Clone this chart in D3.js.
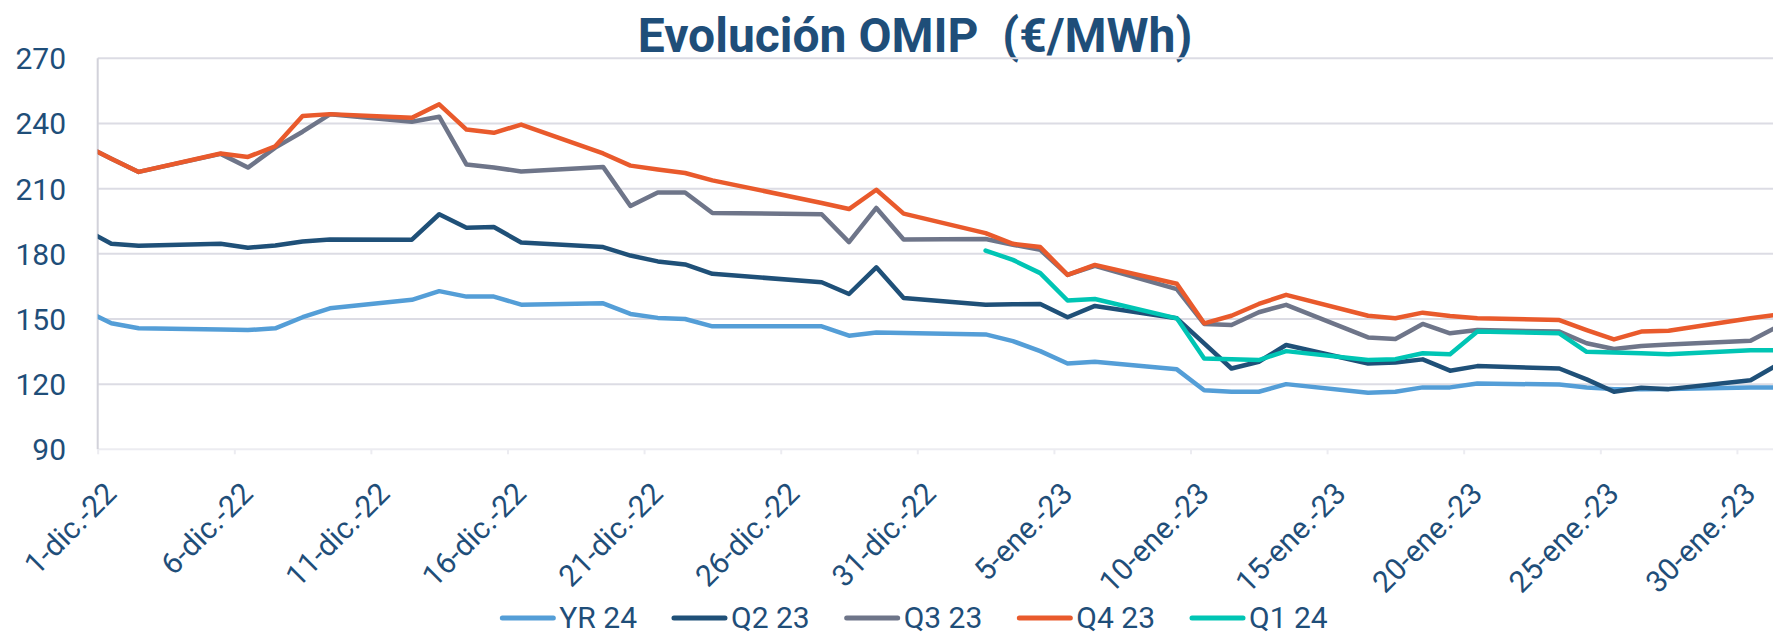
<!DOCTYPE html>
<html>
<head>
<meta charset="utf-8">
<script src="https://cdn.jsdelivr.net/npm/d3@7"></script>
<style>
  body { margin: 0; background: #fff; }
  text { font-family: Roboto, "Noto Sans", sans-serif; }
</style>
</head>
<body>
<div id="chart"></div>
<script>
// Fechas de sesión (días hábiles) y valores de cada contrato OMIP en €/MWh
const fechas = [
  "2022-11-30", "2022-12-01", "2022-12-02", "2022-12-05", "2022-12-06", "2022-12-07", "2022-12-08", "2022-12-09",
  "2022-12-12", "2022-12-13", "2022-12-14", "2022-12-15", "2022-12-16", "2022-12-19", "2022-12-20", "2022-12-21",
  "2022-12-22", "2022-12-23", "2022-12-27", "2022-12-28", "2022-12-29", "2022-12-30", "2023-01-02", "2023-01-03",
  "2023-01-04", "2023-01-05", "2023-01-06", "2023-01-09", "2023-01-10", "2023-01-11", "2023-01-12", "2023-01-13",
  "2023-01-16", "2023-01-17", "2023-01-18", "2023-01-19", "2023-01-20", "2023-01-23", "2023-01-24", "2023-01-25",
  "2023-01-26", "2023-01-27", "2023-01-30", "2023-01-31"
];

const yr24 = [
  154.2, 148.0, 145.7, 145.1, 144.9, 145.7, 150.8, 154.9, 158.8, 162.8, 160.3, 160.3, 156.6, 157.2, 152.3, 150.5,
  150.0, 146.6, 146.6, 142.3, 143.8, 143.5, 142.9, 139.8, 135.2, 129.5, 130.3, 126.8, 117.2, 116.5, 116.5, 120.0,
  116.0, 116.5, 118.5, 118.5, 120.3, 119.8, 118.5, 117.7, 117.7, 117.8, 118.5, 118.5
];
const q223 = [
  191.4, 184.6, 183.7, 184.6, 182.8, 183.8, 185.7, 186.6, 186.5, 198.2, 192.0, 192.3, 185.2, 183.1, 179.2, 176.5,
  175.1, 170.8, 166.9, 161.5, 173.8, 159.7, 156.5, 156.8, 156.9, 150.8, 156.0, 150.3, 138.8, 127.2, 130.3, 138.0,
  129.5, 130.0, 131.4, 126.2, 128.3, 127.2, 122.2, 116.5, 118.3, 117.7, 121.8, 129.0
];
const q323 = [
  230.0, 223.8, 217.7, 226.0, 219.7, 228.9, 236.2, 244.2, 240.8, 243.1, 221.1, 219.7, 217.9, 220.0, 202.0, 208.2,
  208.2, 198.8, 198.2, 185.4, 201.1, 186.6, 186.8, 184.2, 181.8, 170.3, 174.5, 163.7, 147.7, 147.2, 153.1, 156.5,
  141.5, 140.8, 147.7, 143.4, 144.9, 144.2, 138.8, 136.2, 137.6, 138.3, 140.0, 146.5
];
const q423 = [
  230.0, 223.8, 217.7, 226.2, 224.6, 229.5, 243.4, 244.3, 242.6, 248.8, 237.2, 235.7, 239.5, 226.2, 220.6, 218.8,
  217.2, 213.8, 203.4, 200.6, 209.5, 198.5, 189.5, 184.6, 183.1, 170.3, 174.9, 166.2, 148.0, 151.5, 156.9, 161.1,
  151.5, 150.3, 152.9, 151.4, 150.3, 149.5, 144.9, 140.6, 144.2, 144.6, 150.3, 152.0
];
const q124 = [
  null, null, null, null, null, null, null, null, null, null, null, null, null, null, null, null,
  null, null, null, null, null, null, 181.5, 177.2, 171.1, 158.5, 159.2, 150.3, 131.8, 131.4, 131.1, 135.2,
  131.1, 131.5, 134.2, 133.8, 144.2, 143.4, 134.9, 134.6, 134.2, 133.8, 135.6, 135.6
];

const nombresSeries = ["YR 24", "Q2 23", "Q3 23", "Q4 23", "Q1 24"];
const valoresSeries = [yr24, q223, q323, q423, q124];
const colores = ["#549ed7", "#1f5078", "#6e7589", "#e95a2c", "#00c5b4"];

// Marcas del eje X (cada 5 días) y del eje Y
const fechasTicks = [
  "2022-12-01", "2022-12-06", "2022-12-11", "2022-12-16", "2022-12-21", "2022-12-26", "2022-12-31",
  "2023-01-05", "2023-01-10", "2023-01-15", "2023-01-20", "2023-01-25", "2023-01-30"
];
const etiquetasTicks = [
  "1-dic.-22", "6-dic.-22", "11-dic.-22", "16-dic.-22", "21-dic.-22", "26-dic.-22", "31-dic.-22",
  "5-ene.-23", "10-ene.-23", "15-ene.-23", "20-ene.-23", "25-ene.-23", "30-ene.-23"
];
const ticksY = [90, 120, 150, 180, 210, 240, 270];

// Dimensiones
const width = 1773;
const height = 636;
const ejeX0 = 97.7;     // posición del eje Y
const diaPx = 27.32;    // ancho de un día en el eje temporal
const yArriba = 58.3;
const yAbajo = 449.3;
const colorTexto = "#1f4e79";

const parse = d3.timeParse("%Y-%m-%d");

const svg = d3.select("#chart")
  .append("svg")
  .attr("width", width)
  .attr("height", height);

// Escala temporal: cada punto se dibuja en el centro de su día
const xScale = d3.scaleTime()
  .domain([parse("2022-12-01"), parse("2023-02-04")])
  .range([ejeX0, ejeX0 + 65 * diaPx]);

const yScale = d3.scaleLinear()
  .domain([90, 270])
  .range([yAbajo, yArriba]);

// Título (con doble espacio como en el original)
svg.append("text")
  .attr("x", 915)
  .attr("y", 51.5)
  .attr("text-anchor", "middle")
  .attr("font-size", 48)
  .attr("font-weight", "bold")
  .attr("fill", colorTexto)
  .style("white-space", "pre")
  .text("Evolución OMIP  (€/MWh)");

// Líneas de cuadrícula horizontales
svg.append("g")
  .selectAll("line")
  .data(ticksY)
  .enter()
  .append("line")
  .attr("x1", ejeX0)
  .attr("x2", width)
  .attr("y1", d => yScale(d))
  .attr("y2", d => yScale(d))
  .attr("stroke", d => d === 90 ? "#ececf1" : "#dcdce4")
  .attr("stroke-width", 2);

// Eje Y (solo etiquetas) y su línea vertical
const yAxis = d3.axisLeft(yScale).tickValues(ticksY).tickSize(0).tickPadding(0);
const gy = svg.append("g")
  .attr("transform", "translate(66, 0)")
  .call(yAxis);
gy.select(".domain").remove();
gy.selectAll("text")
  .attr("font-size", 30)
  .attr("font-family", "Roboto")
  .attr("fill", colorTexto)
  .attr("dy", "0.35em");

svg.append("line")
  .attr("x1", ejeX0).attr("x2", ejeX0)
  .attr("y1", yArriba).attr("y2", yAbajo)
  .attr("stroke", "#d2d2da")
  .attr("stroke-width", 2);

// Eje X con etiquetas giradas 45º
const xAxis = d3.axisBottom(xScale)
  .tickValues(fechasTicks.map(parse))
  .tickFormat((d, i) => etiquetasTicks[i])
  .tickSize(5);
const gx = svg.append("g")
  .attr("transform", `translate(0, ${yAbajo})`)
  .call(xAxis);
gx.select(".domain").remove();
gx.selectAll(".tick line").attr("stroke", "#ececf1").attr("stroke-width", 2);
gx.selectAll(".tick text")
  .attr("font-size", 30)
  .attr("font-family", "Roboto")
  .attr("fill", colorTexto)
  .attr("text-anchor", "end")
  .attr("y", 0)
  .attr("dy", 0)
  .attr("transform", "translate(20, 46) rotate(-45)");

// Recorte para que las líneas no salgan del área del gráfico
svg.append("clipPath")
  .attr("id", "recorte")
  .append("rect")
  .attr("x", ejeX0)
  .attr("y", 0)
  .attr("width", width - ejeX0)
  .attr("height", height);

const linea = d3.line()
  .defined(d => d.v !== null)
  .x(d => xScale(d3.timeHour.offset(parse(d.f), 12)))
  .y(d => yScale(d.v));

svg.append("g")
  .attr("clip-path", "url(#recorte)")
  .selectAll("path")
  .data(valoresSeries)
  .enter()
  .append("path")
  .attr("d", vals => linea(vals.map((v, i) => ({ f: fechas[i], v: v }))))
  .attr("fill", "none")
  .attr("stroke", (d, i) => colores[i])
  .attr("stroke-width", 4.5)
  .attr("stroke-linejoin", "round")
  .attr("stroke-linecap", "round");

// Leyenda centrada abajo
const leyenda = svg.append("g");
let cursor = 0;
nombresSeries.forEach((nombre, i) => {
  const item = leyenda.append("g").attr("transform", `translate(${cursor}, 0)`);
  item.append("line")
    .attr("x1", 2).attr("x2", 53)
    .attr("y1", 618).attr("y2", 618)
    .attr("stroke", colores[i])
    .attr("stroke-width", 5)
    .attr("stroke-linecap", "round");
  const t = item.append("text")
    .attr("x", 59)
    .attr("y", 628)
    .attr("font-size", 30)
    .attr("fill", colorTexto)
    .text(nombre);
  cursor += 59 + t.node().getComputedTextLength() + 35;
});
const anchoLeyenda = cursor - 35;
leyenda.attr("transform", `translate(${914 - anchoLeyenda / 2}, 0)`);
</script>
</body>
</html>
